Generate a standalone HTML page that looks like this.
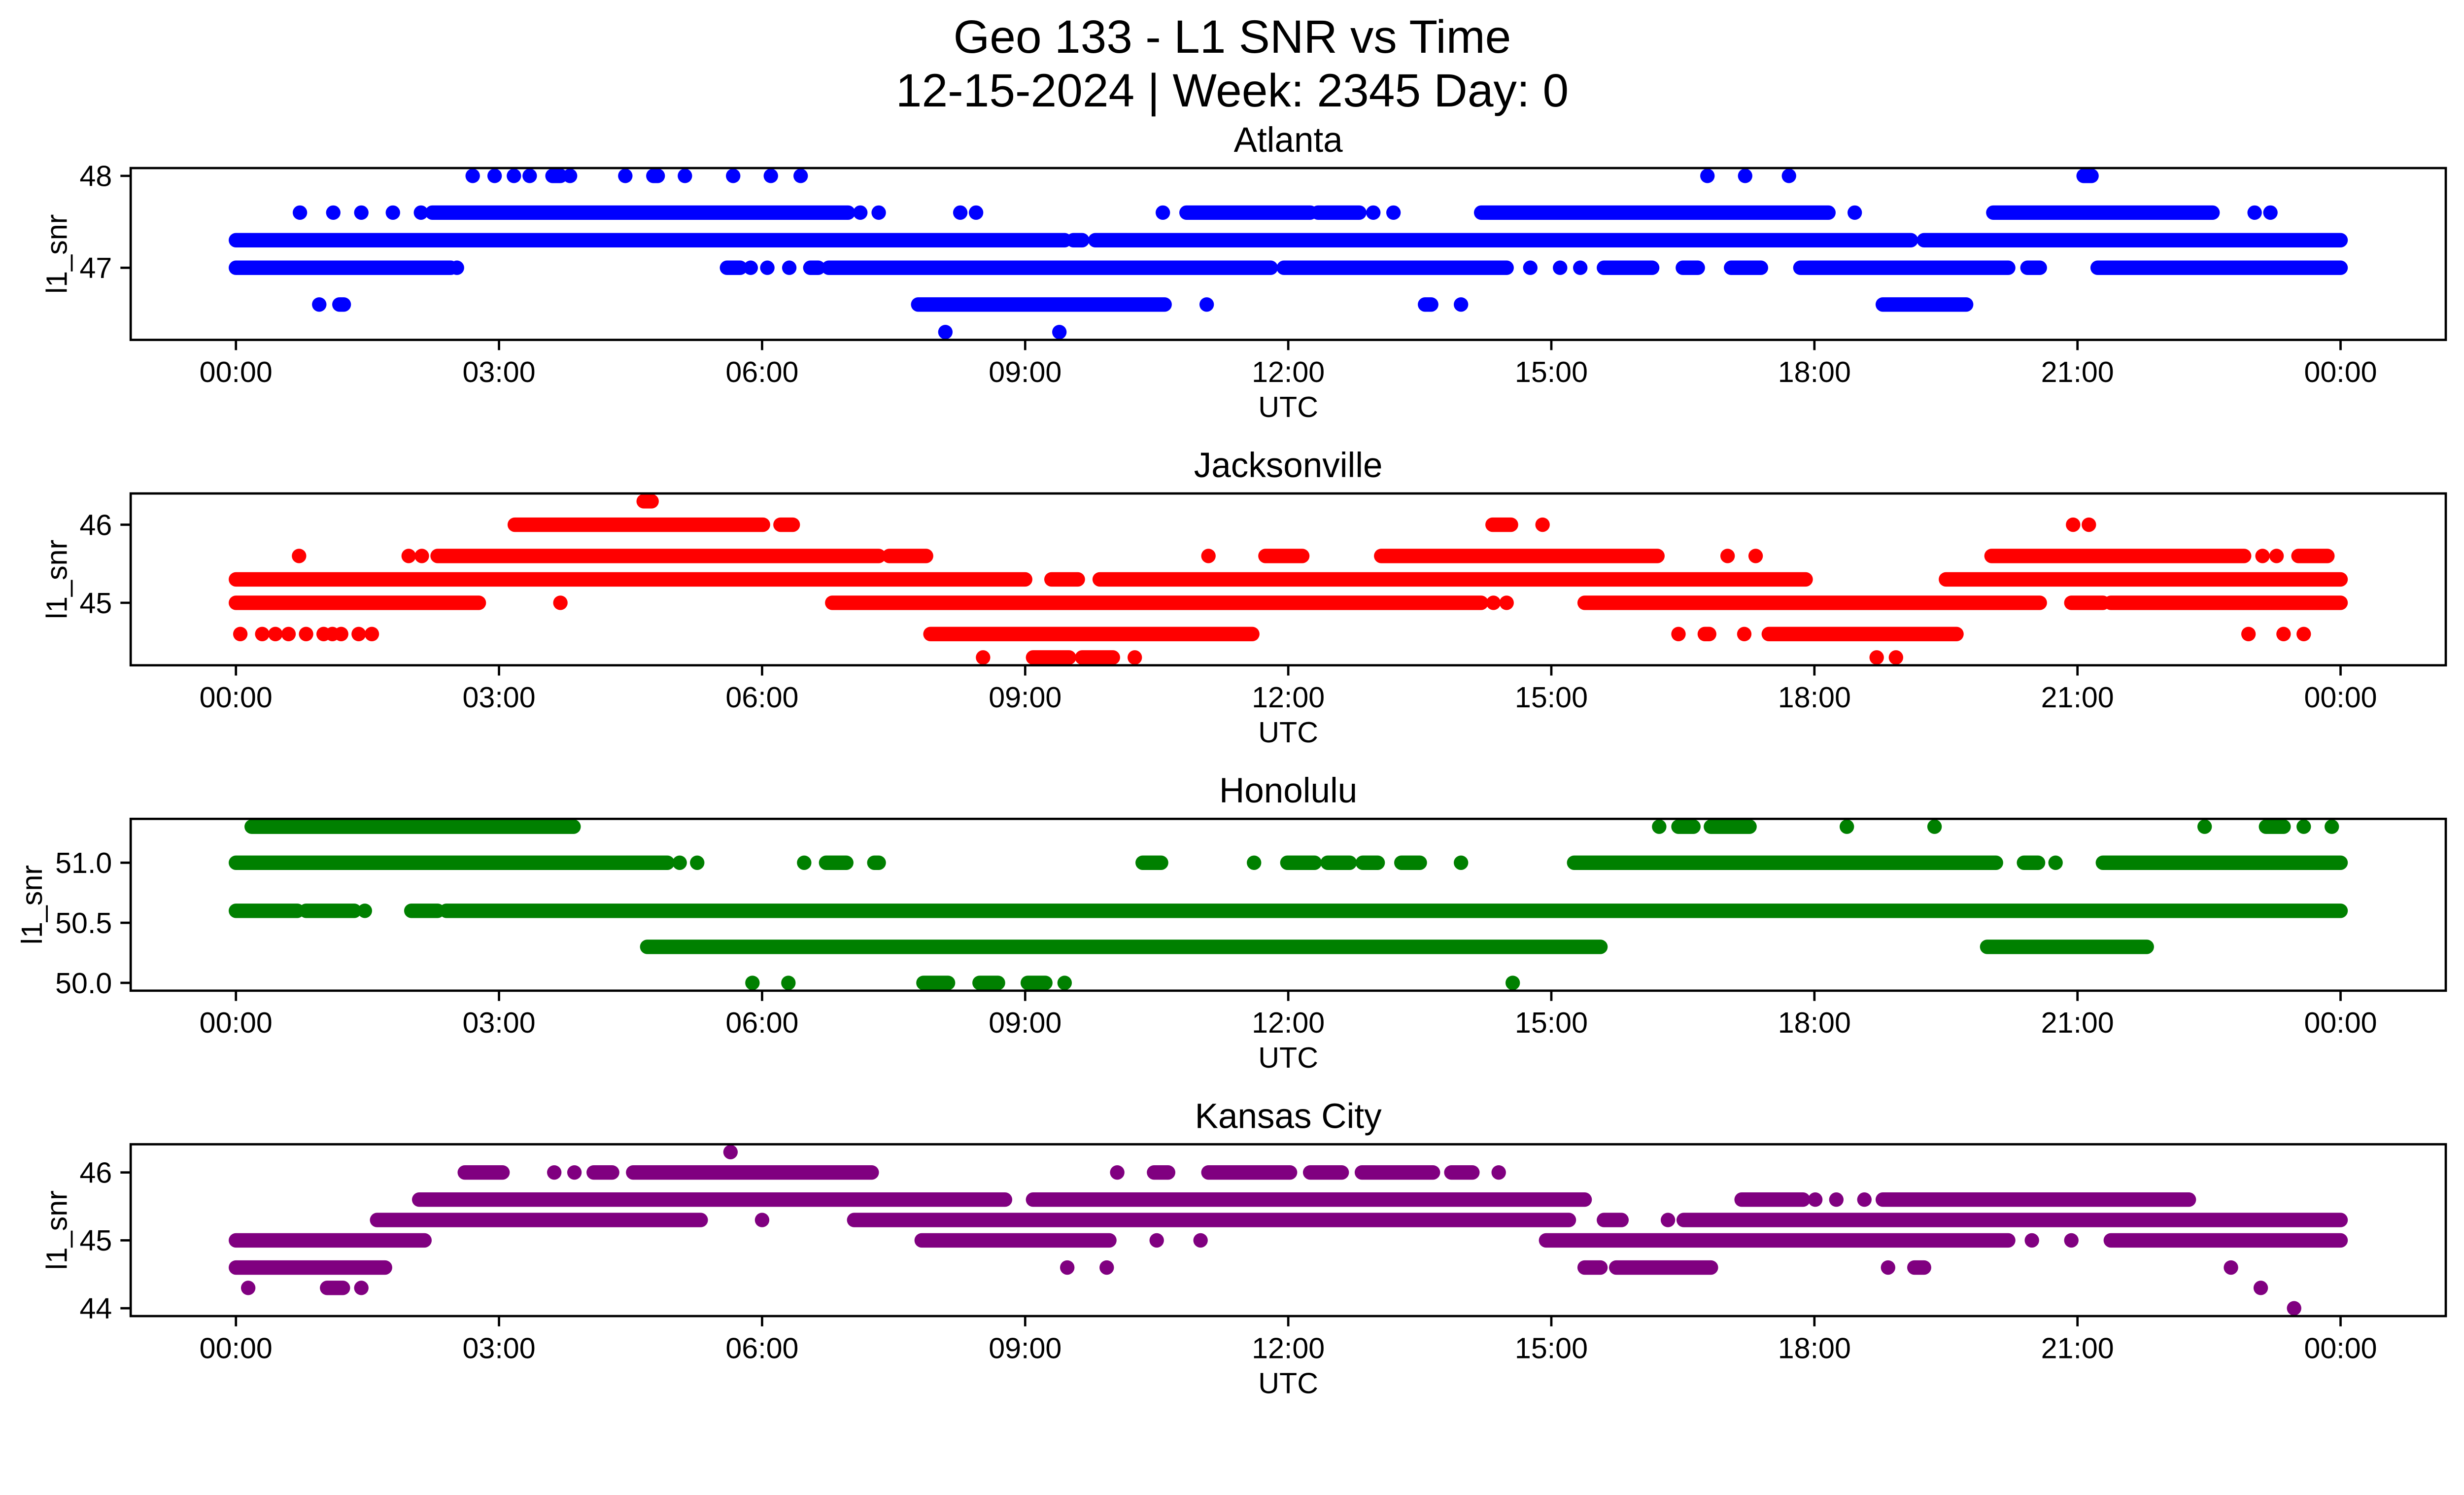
<!DOCTYPE html>
<html><head><meta charset="utf-8"><style>
html,body{margin:0;padding:0;background:#fff;width:100%;height:100%;overflow:hidden}
svg{display:block;position:absolute;left:0;top:0;width:100vw;height:calc(100vw * 3033 / 5279)}
text{font-family:"Liberation Sans","DejaVu Sans",sans-serif;fill:#000}
</style></head><body>
<svg id="fig" viewBox="0 0 5279 3033" preserveAspectRatio="xMinYMin meet" xmlns="http://www.w3.org/2000/svg" overflow="hidden">
<rect x="0" y="0" width="5279" height="3033" fill="#fff"/>
<text x="2640" y="113" font-size="100" text-anchor="middle">Geo 133 - L1 SNR vs Time</text>
<text x="2640" y="228" font-size="100" text-anchor="middle">12-15-2024 | Week: 2345 Day: 0</text>
</svg>
<script>
// Data: runs of contiguous samples [startHour, endHour] per SNR level
const stations = ["Atlanta","Jacksonville","Honolulu","Kansas City"];
const colors = ["#0000ff","#ff0000","#008000","#800080"];
const xTickHours = [0,3,6,9,12,15,18,21,24];
const xTickLabels = ["00:00","03:00","06:00","09:00","12:00","15:00","18:00","21:00","00:00"];

const atlantaLevels = [48.0,47.6,47.3,47.0,46.6,46.3];
const atlantaRuns = [
 [[2.70,2.70],[2.95,2.95],[3.17,3.17],[3.35,3.35],[3.61,3.70],[3.81,3.81],[4.44,4.44],[4.76,4.81],[5.12,5.12],[5.67,5.67],[6.10,6.10],[6.44,6.44],[16.78,16.78],[17.21,17.21],[17.71,17.71],[21.07,21.16]],
 [[0.73,0.73],[1.11,1.11],[1.43,1.43],[1.79,1.79],[2.11,2.11],[2.24,6.98],[7.12,7.12],[7.33,7.33],[8.26,8.26],[8.44,8.44],[10.57,10.57],[10.84,12.25],[12.34,12.81],[12.97,12.97],[13.20,13.20],[14.20,18.16],[18.46,18.46],[20.04,22.54],[23.02,23.02],[23.20,23.20]],
 [[0,9.45],[9.55,9.65],[9.8,19.1],[19.25,24]],
 [[0,2.45],[2.52,2.52],[5.6,5.75],[5.87,5.87],[6.06,6.06],[6.31,6.31],[6.55,6.64],[6.76,11.8],[11.95,14.49],[14.76,14.76],[15.1,15.1],[15.33,15.33],[15.6,16.15],[16.5,16.67],[17.05,17.39],[17.84,20.21],[20.43,20.57],[21.23,24]],
 [[0.95,0.95],[1.18,1.23],[7.78,10.59],[11.07,11.07],[13.56,13.63],[13.97,13.97],[18.78,19.73]],
 [[8.09,8.09],[9.39,9.39]]
];
const jaxLevels = [46.3,46.0,45.6,45.3,45.0,44.6,44.3];
const jaxRuns = [
 [[4.65,4.74]],
 [[3.18,6.01],[6.21,6.35],[14.33,14.54],[14.90,14.90],[20.95,20.95],[21.13,21.13]],
 [[0.72,0.72],[1.97,1.97],[2.12,2.12],[2.3,7.33],[7.45,7.87],[11.09,11.09],[11.74,12.16],[13.06,16.21],[17.01,17.01],[17.33,17.33],[20.02,22.9],[23.11,23.11],[23.27,23.27],[23.52,23.85]],
 [[0,9.0],[9.3,9.6],[9.85,17.9],[19.5,24]],
 [[0,2.77],[3.70,3.70],[6.8,14.2],[14.34,14.34],[14.49,14.49],[15.38,20.57],[20.93,21.29],[21.38,24]],
 [[0.05,0.05],[0.3,0.3],[0.45,0.45],[0.6,0.6],[0.8,0.8],[1.0,1.0],[1.1,1.1],[1.2,1.2],[1.4,1.4],[1.55,1.55],[7.92,11.59],[16.45,16.45],[16.75,16.8],[17.2,17.2],[17.48,19.62],[22.95,22.95],[23.35,23.35],[23.58,23.58]],
 [[8.52,8.52],[9.09,9.5],[9.65,10.0],[10.25,10.25],[18.71,18.71],[18.93,18.93]]
];
const honLevels = [51.3,51.0,50.6,50.3,50.0];
const honRuns = [
 [[0.18,3.85],[16.23,16.23],[16.45,16.62],[16.82,17.26],[18.37,18.37],[19.37,19.37],[22.45,22.45],[23.15,23.35],[23.58,23.58],[23.9,23.9]],
 [[0,4.92],[5.06,5.06],[5.26,5.26],[6.48,6.48],[6.73,6.96],[7.28,7.33],[10.34,10.55],[11.61,11.61],[11.99,12.3],[12.45,12.7],[12.85,13.02],[13.29,13.5],[13.97,13.97],[15.26,20.07],[20.39,20.55],[20.75,20.75],[21.29,24]],
 [[0,0.7],[0.8,1.35],[1.47,1.47],[2.0,2.3],[2.4,24]],
 [[4.69,15.56],[19.97,21.79]],
 [[5.89,5.89],[6.30,6.30],[7.84,8.12],[8.48,8.69],[9.03,9.23],[9.45,9.45],[14.56,14.56]]
];
const kcLevels = [46.3,46.0,45.6,45.3,45.0,44.6,44.3,44.0];
const kcRuns = [
 [[5.64,5.64]],
 [[2.61,3.04],[3.63,3.63],[3.86,3.86],[4.08,4.29],[4.53,7.25],[10.05,10.05],[10.47,10.63],[11.09,12.02],[12.25,12.61],[12.84,13.65],[13.86,14.1],[14.4,14.4]],
 [[2.09,8.77],[9.09,15.38],[17.17,17.87],[18.01,18.01],[18.25,18.25],[18.57,18.57],[18.78,22.27]],
 [[1.61,5.3],[6.0,6.0],[7.05,15.2],[15.6,15.8],[16.33,16.33],[16.51,24]],
 [[0,2.15],[7.82,9.96],[10.5,10.5],[11.0,11.0],[14.94,20.21],[20.48,20.48],[20.93,20.93],[21.38,24]],
 [[0,1.7],[9.48,9.48],[9.93,9.93],[15.38,15.56],[15.74,16.82],[18.84,18.84],[19.14,19.25],[22.75,22.75]],
 [[0.14,0.14],[1.04,1.22],[1.43,1.43],[23.09,23.09]],
 [[23.47,23.47]]
];
const yTicksAll = [[47,48],[45,46],[50.0,50.5,51.0],[44,45,46]];
const yTickLabelsAll = [["47","48"],["45","46"],["50.0","50.5","51.0"],["44","45","46"]];
const levelsAll = [atlantaLevels,jaxLevels,honLevels,kcLevels];
const runsAll = [atlantaRuns,jaxRuns,honRuns,kcRuns];

const NS="http://www.w3.org/2000/svg";
const svg=document.getElementById('fig');
const L=280,R=5240,H=368,TOP0=360,STEP=697;
const xmin=-1.2,xmax=25.2;
function xs(h){return L+(h-xmin)/(xmax-xmin)*(R-L);}
function mk(tag,attrs,parent){const e=document.createElementNS(NS,tag);for(const k in attrs)e.setAttribute(k,attrs[k]);(parent||svg).appendChild(e);return e;}

for(let p=0;p<4;p++){
  const top=TOP0+p*STEP,bot=top+H;
  const lv=levelsAll[p];
  const lo=Math.min(...lv),hi=Math.max(...lv),m=(hi-lo)*0.05;
  const ymin=lo-m,ymax=hi+m;
  const ys=v=>bot-(v-ymin)/(ymax-ymin)*H;
  const g=mk('g',{});
  
  
  const runs=runsAll[p];
  const sg=mk('g',{stroke:colors[p],'stroke-width':31,'stroke-linecap':'round',fill:'none'},g);
  
  
  for(let i=0;i<lv.length;i++){
    for(const r of runs[i]){
      const ln=mk('line',{x1:xs(r[0]),x2:xs(r[1]),y1:ys(lv[i]),y2:ys(lv[i])},sg);
      
      
    }
  }
  const fr=mk('rect',{x:L,y:top,width:R-L,height:H,fill:'none',stroke:'#000','stroke-width':5},g);
  
  
  for(let i=0;i<xTickHours.length;i++){
    const x=xs(xTickHours[i]);
    const tk=mk('line',{x1:x,x2:x,y1:bot,y2:bot+22,stroke:'#000','stroke-width':5},g);
    
    
    const t=mk('text',{x:x,y:bot+90,'font-size':62.5,'text-anchor':'middle'},g);
    t.textContent=xTickLabels[i];
    
    
  }
  const yt=yTicksAll[p],ytl=yTickLabelsAll[p];
  for(let i=0;i<yt.length;i++){
    const y=ys(yt[i]);
    const tk=mk('line',{x1:L-22,x2:L,y1:y,y2:y,stroke:'#000','stroke-width':5},g);
    
    
    const t=mk('text',{x:L-40,y:y+22,'font-size':62.5,'text-anchor':'end'},g);
    t.textContent=ytl[i];
    
    
  }
  const xl=mk('text',{x:(L+R)/2,y:bot+165,'font-size':62.5,'text-anchor':'middle'},g);
  xl.textContent='UTC';
  
  
  const ylx=p===2?90:143;
  const yl=mk('text',{x:ylx,y:(top+bot)/2,'font-size':62.5,'text-anchor':'middle',transform:'rotate(-90 '+ylx+' '+(top+bot)/2+')'},g);
  yl.textContent='l1_snr';
  
  
  const ti=mk('text',{x:(L+R)/2,y:top-35,'font-size':75,'text-anchor':'middle'},g);
  ti.textContent=stations[p];
  
  
}
</script>
</body></html>
